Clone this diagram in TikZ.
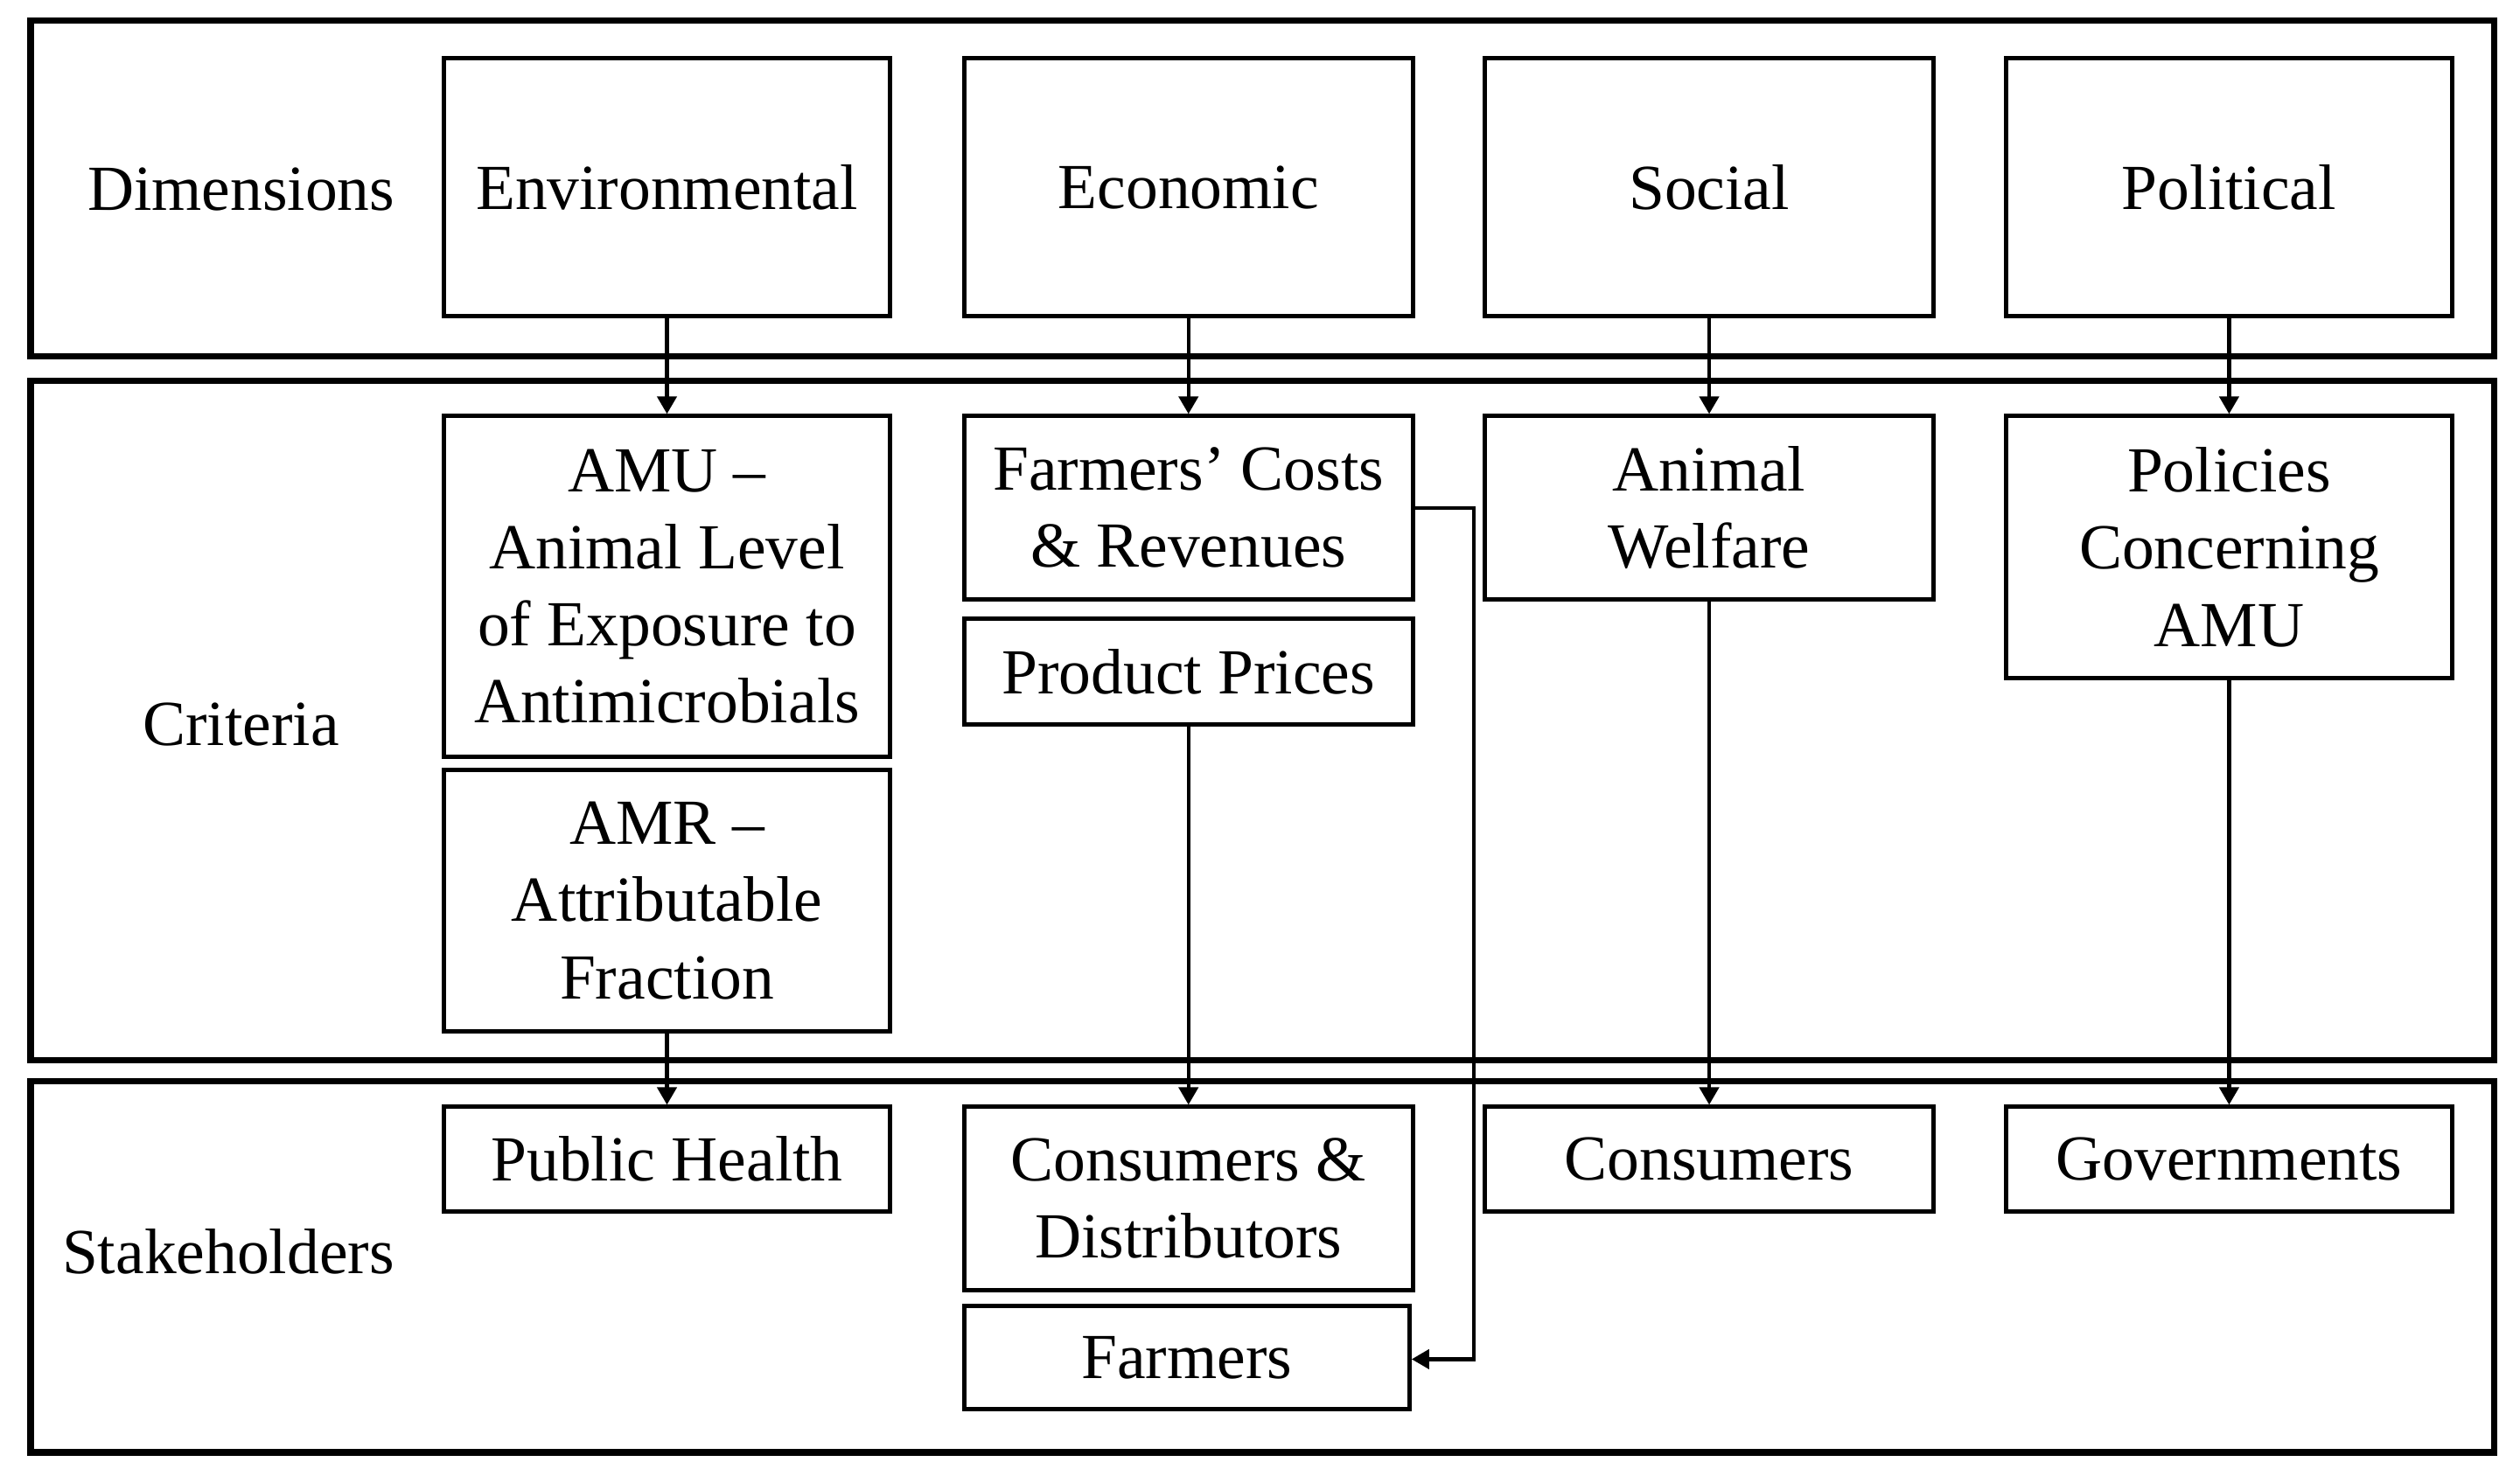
\documentclass[tikz,border=0pt]{standalone}
\usepackage{fontspec}
\setmainfont{Liberation Serif}
\usetikzlibrary{arrows.meta}
\begin{document}
\begin{tikzpicture}[x=0.46pt,y=-0.46pt,
  panel/.style 2 args={draw,line width=1.8pt,inner sep=0pt,minimum width=#1*0.46pt,minimum height=#2*0.46pt},
  bx/.style 2 args={draw,line width=1.25pt,inner sep=0pt,align=center,minimum width=#1*0.46pt,minimum height=#2*0.46pt},
  lbl/.style={align=center,inner sep=0pt},
  arr/.style={line width=1.05pt,-{Triangle[length=5pt,width=5.5pt]}},
  every node/.style={font=\fontsize{18.4}{22.1}\selectfont}]
\useasboundingbox (0,0) rectangle (1568,918.7);
% panels
\node[panel={1533}{209}] (P1) at (785.5,117.5) {};
\node[panel={1533}{423}] (P2) at (785.5,448.5) {};
\node[panel={1533}{231}] (P3) at (785.5,788.5) {};
% row labels
\node[lbl] (ldim) at (150,118) {Dimensions};
\node[lbl] (lcri) at (150,451) {Criteria};
\node[lbl] (lsta) at (142,779) {Stakeholders};
% dimension boxes
\node[bx={278}{161}] (env) at (415,116.5) {Environmental};
\node[bx={279}{161}] (eco) at (739.5,116.5) {Economic};
\node[bx={279}{161}] (soc) at (1063.5,116.5) {Social};
\node[bx={278}{161}] (pol) at (1387,116.5) {Political};
% criteria boxes
\node[bx={278}{212}] (amu) at (415,365) {AMU --\\Animal Level\\of Exposure to\\Antimicrobials};
\node[bx={278}{163}] (amr) at (415,560.5) {AMR --\\Attributable\\Fraction};
\node[bx={279}{114}] (fcr) at (739.5,316) {Farmers’ Costs\\\& Revenues};
\node[bx={279}{66}] (pp) at (739.5,418) {Product Prices};
\node[bx={279}{114}] (aw) at (1063.5,316) {Animal\\Welfare};
\node[bx={278}{163}] (pca) at (1387,340.5) {Policies\\Concerning\\AMU};
% stakeholder boxes
\node[bx={278}{65}] (ph) at (415,721.5) {Public Health};
\node[bx={279}{114}] (cd) at (739.5,746) {Consumers \&\\Distributors};
\node[bx={277}{64}] (far) at (738.5,845) {Farmers};
\node[bx={279}{65}] (con) at (1063.5,721.5) {Consumers};
\node[bx={278}{65}] (gov) at (1387,721.5) {Governments};
% connectors
\draw[arr] (env.south) -- (amu.north);
\draw[arr] (eco.south) -- (fcr.north);
\draw[arr] (soc.south) -- (aw.north);
\draw[arr] (pol.south) -- (pca.north);
\draw[arr] (amr.south) -- (ph.north);
\draw[arr] (pp.south) -- (cd.north);
\draw[arr] (aw.south) -- (con.north);
\draw[arr] (pca.south) -- (gov.north);
\coordinate (t1) at (917,316);
\coordinate (t2) at (917,846);
\draw[arr] (fcr.east |- t1) -- (t1) -- (t2) -- (far.east |- t2);
\end{tikzpicture}
\end{document}
